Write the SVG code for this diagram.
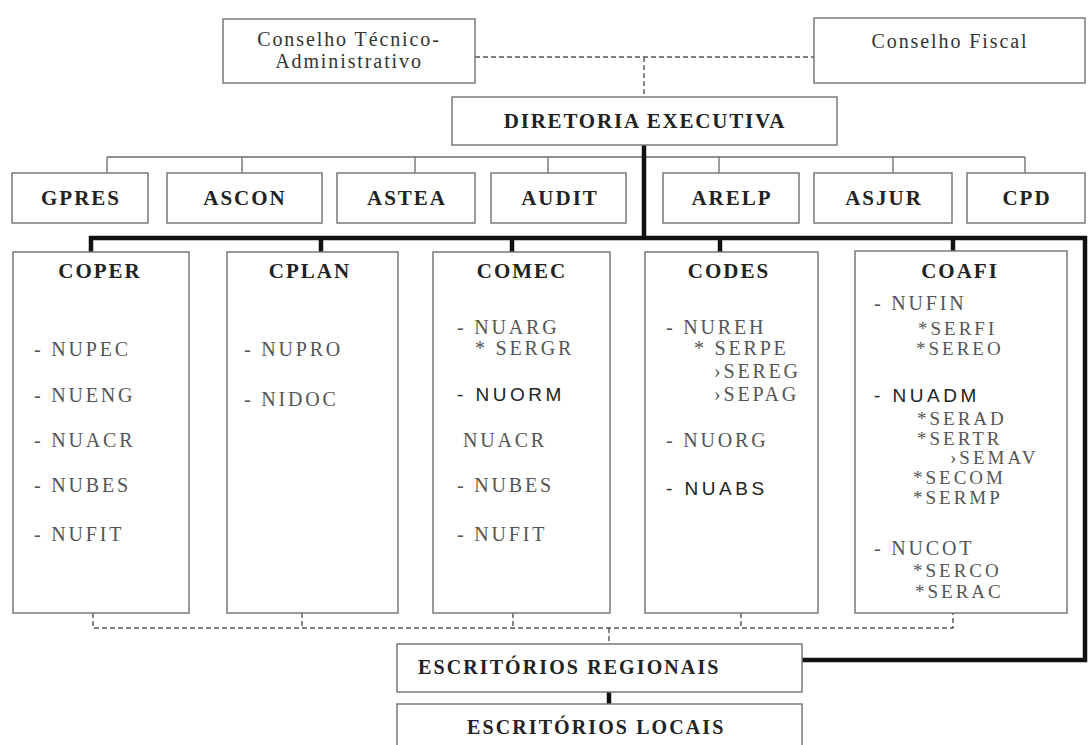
<svg xmlns="http://www.w3.org/2000/svg" width="1091" height="745" viewBox="0 0 1091 745">
<style>
.box{fill:#fff;stroke:#7a7a7a;stroke-width:1.5}
.thin{fill:none;stroke:#6a6a6a;stroke-width:1.3}
.thick{fill:none;stroke:#111;stroke-width:4.5}
.dash{fill:none;stroke:#555;stroke-width:1.4;stroke-dasharray:5,3}
.cons{font-family:"Liberation Serif",serif;font-size:20px;letter-spacing:1.9px;fill:#333;text-anchor:middle}
.hd{font-family:"Liberation Serif",serif;font-weight:bold;font-size:21px;letter-spacing:2px;fill:#222;text-anchor:middle}
.big{font-family:"Liberation Serif",serif;font-weight:bold;font-size:21px;letter-spacing:1.8px;fill:#222}
.it{font-family:"Liberation Serif",serif;font-size:20px;letter-spacing:2.8px;fill:#555}
.sm{font-size:19px;letter-spacing:3px}
.its{font-family:"Liberation Sans",sans-serif;font-size:19px;letter-spacing:3.5px;fill:#222}
</style>
<rect width="1091" height="745" fill="#fff"/>
<g id="connectors">
<path class="dash" d="M475 57H814M644 57V97"/>
<path class="thin" d="M107 157H1025M107 157V173M242 157V173M415 157V173M548 157V173M719 157V173M893 157V173M1025 157V173"/>
<path class="thick" d="M644 145V238M91 252V238H1085V660H802M321 238V252M512 238V252M720 238V252M953 238V252M609 692V704"/>
<path class="dash" d="M93 613V628H953V613M302 613V628M513 613V628M741 613V628M609 628V644"/>
</g>
<g id="cta"><rect class="box" x="223" y="19" width="252" height="64"/><text class="cons" x="349" y="46">Conselho Técnico-</text><text class="cons" x="349" y="68">Administrativo</text></g>
<g id="cf"><rect class="box" x="814" y="18" width="271" height="65"/><text class="cons" x="950" y="48">Conselho Fiscal</text></g>
<g id="de"><rect class="box" x="452" y="97" width="385" height="48"/><text class="big" x="645" y="128" text-anchor="middle">DIRETORIA EXECUTIVA</text></g>
<g id="gpres"><rect class="box" x="12" y="173" width="136" height="50"/><text class="hd" x="81" y="205">GPRES</text></g>
<g id="ascon"><rect class="box" x="167" y="173" width="155" height="50"/><text class="hd" x="245" y="205">ASCON</text></g>
<g id="astea"><rect class="box" x="337" y="173" width="138" height="50"/><text class="hd" x="407" y="205">ASTEA</text></g>
<g id="audit"><rect class="box" x="491" y="173" width="135" height="50"/><text class="hd" x="560" y="205">AUDIT</text></g>
<g id="arelp"><rect class="box" x="663" y="173" width="136" height="50"/><text class="hd" x="732" y="205">ARELP</text></g>
<g id="asjur"><rect class="box" x="814" y="173" width="138" height="50"/><text class="hd" x="884" y="205">ASJUR</text></g>
<g id="cpd"><rect class="box" x="967" y="173" width="118" height="50"/><text class="hd" x="1027" y="205">CPD</text></g>
<g id="coper"><rect class="box" x="13" y="252" width="176" height="361"/><text class="hd" x="100" y="278">COPER</text>
<text class="it" x="34" y="356">- NUPEC</text><text class="it" x="34" y="402">- NUENG</text><text class="it" x="34" y="447">- NUACR</text><text class="it" x="34" y="492">- NUBES</text><text class="it" x="34" y="541">- NUFIT</text></g>
<g id="cplan"><rect class="box" x="227" y="252" width="171" height="361"/><text class="hd" x="310" y="278">CPLAN</text>
<text class="it" x="244" y="356">- NUPRO</text><text class="it" x="244" y="406">- NIDOC</text></g>
<g id="comec"><rect class="box" x="433" y="252" width="177" height="361"/><text class="hd" x="522" y="278">COMEC</text>
<text class="it" x="457" y="334">- NUARG</text><text class="it" x="475" y="355">* SERGR</text><text class="its" x="457" y="401">- NUORM</text><text class="it" x="463" y="447">NUACR</text><text class="it" x="457" y="492">- NUBES</text><text class="it" x="457" y="541">- NUFIT</text></g>
<g id="codes"><rect class="box" x="645" y="252" width="173" height="361"/><text class="hd" x="729" y="278">CODES</text>
<text class="it" x="666" y="334">- NUREH</text><text class="it" x="694" y="355">* SERPE</text><text class="it" x="714" y="378">›SEREG</text><text class="it" x="714" y="401">›SEPAG</text><text class="it" x="666" y="447">- NUORG</text><text class="its" x="666" y="495">- NUABS</text></g>
<g id="coafi"><rect class="box" x="855" y="251" width="212" height="362"/><text class="hd" x="960" y="278">COAFI</text>
<text class="it" x="874" y="310">- NUFIN</text><text class="it sm" x="918" y="335">*SERFI</text><text class="it sm" x="916" y="355">*SEREO</text>
<text class="its" x="874" y="402">- NUADM</text><text class="it sm" x="917" y="425">*SERAD</text><text class="it sm" x="917" y="445">*SERTR</text><text class="it sm" x="950" y="464">›SEMAV</text><text class="it sm" x="913" y="484">*SECOM</text><text class="it sm" x="913" y="504">*SERMP</text>
<text class="it" x="874" y="555">- NUCOT</text><text class="it sm" x="913" y="577">*SERCO</text><text class="it sm" x="915" y="598">*SERAC</text></g>
<g id="er"><rect class="box" x="397" y="644" width="405" height="48"/><text class="big" x="418" y="674" style="font-size:20px;letter-spacing:2.1px">ESCRITÓRIOS REGIONAIS</text></g>
<g id="el"><rect class="box" x="397" y="704" width="405" height="50"/><text class="big" x="467" y="734" style="font-size:20px;letter-spacing:2.1px">ESCRITÓRIOS LOCAIS</text></g>
</svg>
